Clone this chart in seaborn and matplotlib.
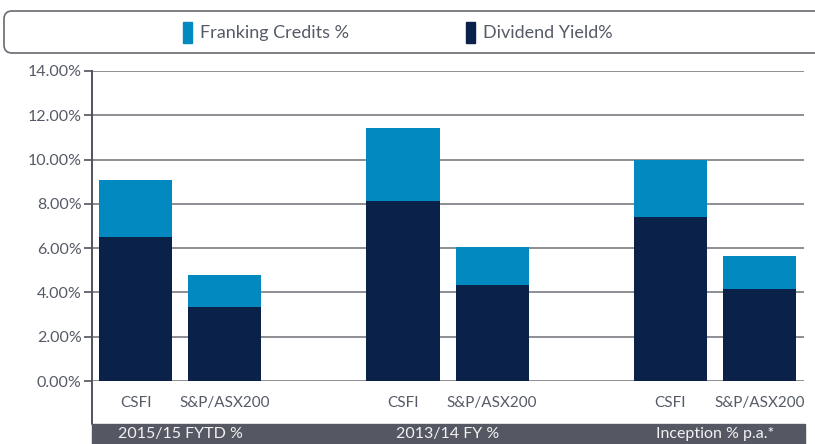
import matplotlib
matplotlib.use('Agg')
import numpy as np
import pandas as pd
import matplotlib.pyplot as plt
import matplotlib.transforms as mtransforms
from matplotlib.patches import Rectangle, FancyBboxPatch
import seaborn as sns

# data
periods = ['2015/15 FYTD %', '2013/14 FY %', 'Inception % p.a.*']
funds = ['CSFI', 'S&P/ASX200']
dividend_yield = [6.50, 3.34, 8.12, 4.33, 7.40, 4.16]
franking_credits = [2.58, 1.45, 3.29, 1.71, 2.60, 1.49]

light_blue = '#0289c0'
navy = '#0a2149'
band_grey = '#555862'
text_grey = '#555a66'

sns.set_style('white')
plt.rcParams['font.family'] = ['Lato', 'DejaVu Sans']

rows = []
for g, period in enumerate(periods):
    for f, fund in enumerate(funds):
        i = g * len(funds) + f
        rows.append({'period': period, 'fund': fund,
                     'pos': g * (len(funds) + 1) + f,
                     'dividend': dividend_yield[i],
                     'total': dividend_yield[i] + franking_credits[i]})
df = pd.DataFrame(rows)

fig = plt.figure(figsize=(8.15, 4.44), dpi=100)
ax = fig.add_axes([92 / 815, 63 / 444, 712 / 815, 310 / 444])

# stacked bars: full height in light blue, dividend part over it in navy
sns.barplot(data=df, x='pos', y='total', native_scale=True, width=0.82,
            color=light_blue, saturation=1, errorbar=None, linewidth=0,
            ax=ax, zorder=3)
sns.barplot(data=df, x='pos', y='dividend', native_scale=True, width=0.82,
            color=navy, saturation=1, errorbar=None, linewidth=0,
            ax=ax, zorder=3)

ax.set_xlim(-0.49, 7.5)
ax.set_ylim(0, 14)
ax.set_yticks(np.arange(0, 15, 2))
ax.set_yticklabels(['%.2f%%' % v for v in np.arange(0, 15, 2)],
                   fontsize=11.5, color=text_grey)
ax.set_xticks(df['pos'])
ax.set_xticklabels(df['fund'], fontsize=11, color=text_grey)
ax.tick_params(axis='x', length=0, pad=11)
ax.tick_params(axis='y', length=6, width=1.2, color='#50525c', pad=1.5, left=True)
ax.set_xlabel('')
ax.set_ylabel('')

ax.yaxis.grid(True, color='#8d8e94', lw=1.4, zorder=0)
ax.set_axisbelow(True)
for s in ['top', 'right', 'bottom']:
    ax.spines[s].set_visible(False)
ax.spines['left'].set_color('#50525c')
ax.spines['left'].set_linewidth(1.4)
# left axis line runs down to the grey band
ax.plot([0, 0], [0, -43 / 310], transform=ax.transAxes, color='#50525c',
        lw=1.4, clip_on=False)

# grey period band under the chart
fig.patches.append(Rectangle((92 / 815, 0), 713 / 815, 20 / 444,
                             transform=fig.transFigure, color=band_grey))
blend = mtransforms.blended_transform_factory(ax.transData, fig.transFigure)
for g, period in enumerate(periods):
    centre = df.loc[df['period'] == period, 'pos'].mean()
    fig.text(centre, 10 / 444, period, transform=blend, ha='center',
             va='center', fontsize=11.5, color='#f2f2f2')

# legend box across the top
inch = fig.dpi_scale_trans
fig.patches.append(FancyBboxPatch((0.04, 3.91), 8.3, 0.42,
                                  boxstyle='round,pad=0,rounding_size=0.08',
                                  transform=inch, fc='white', ec='#6a6b72', lw=1.2))
legend_items = [('Franking Credits %', light_blue, 1.83),
                ('Dividend Yield%', navy, 4.66)]
for label, colour, x0 in legend_items:
    fig.patches.append(Rectangle((x0, 4.01), 0.09, 0.21, transform=inch,
                                 color=colour))
    fig.text(x0 + 0.17, 4.115, label, transform=inch, ha='left', va='center',
             fontsize=13, color=text_grey)

fig.savefig('out.png', dpi=100)
